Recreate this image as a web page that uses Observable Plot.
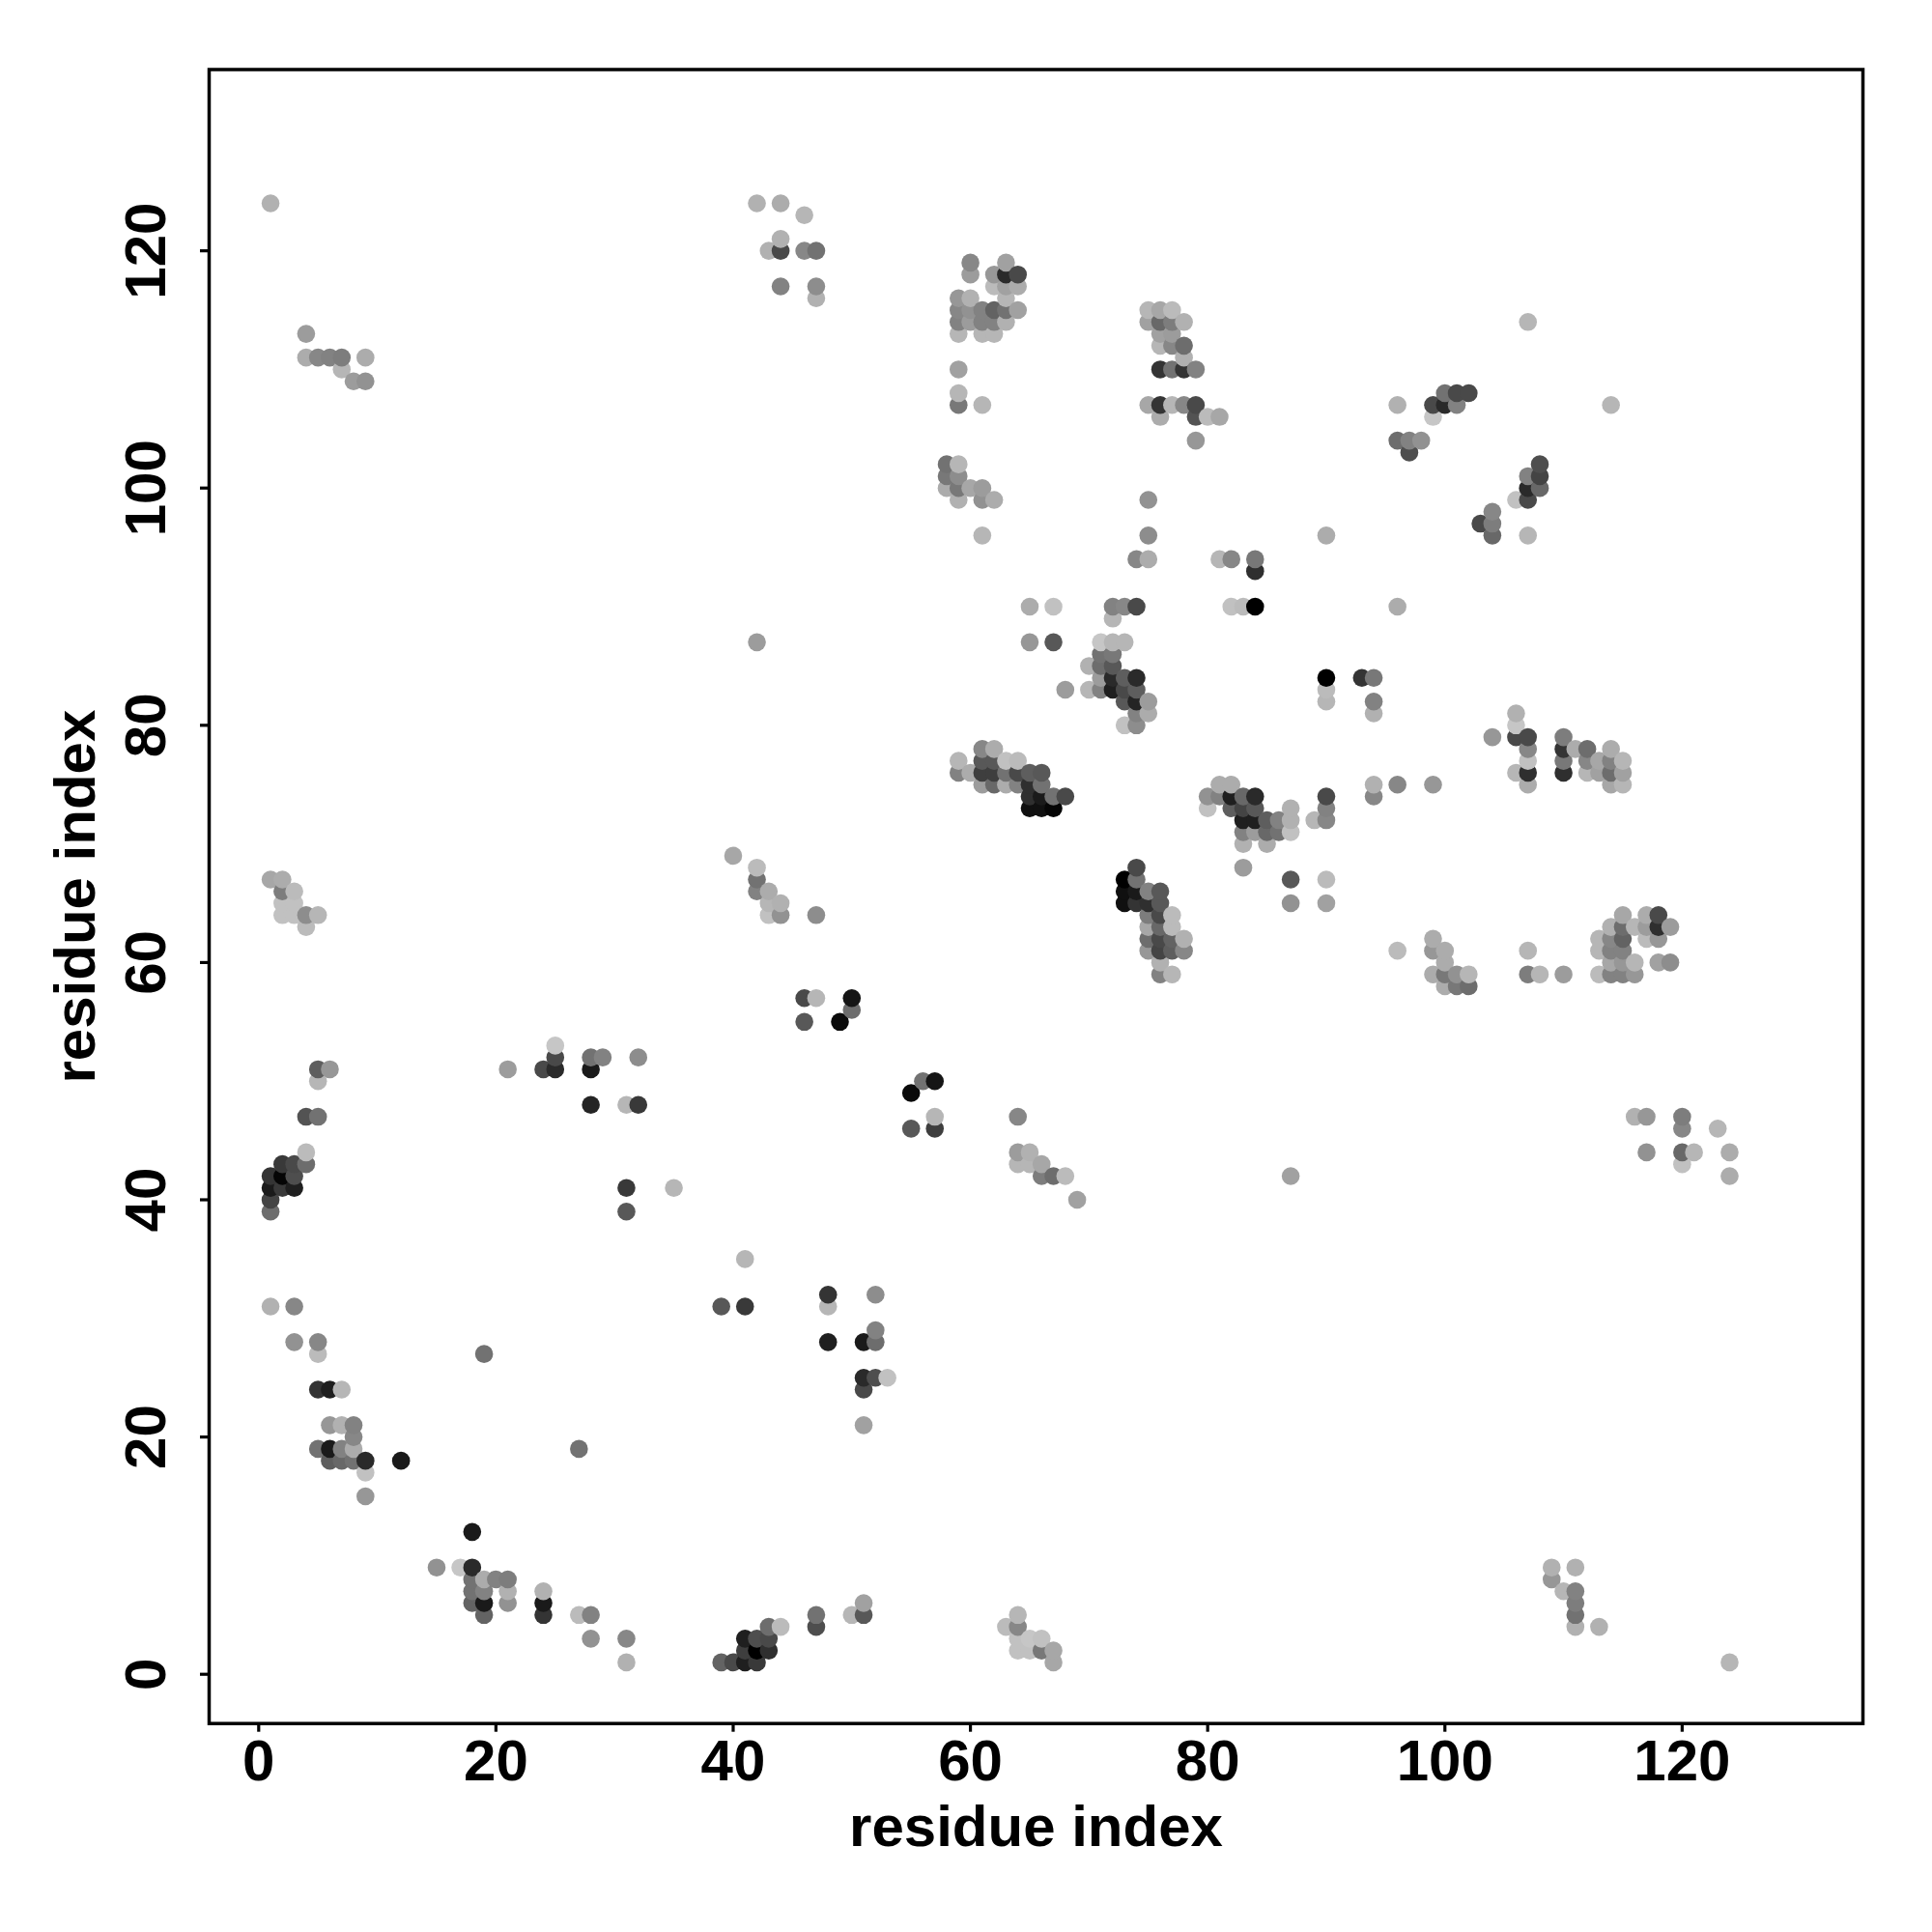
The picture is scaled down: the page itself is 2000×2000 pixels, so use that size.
<!DOCTYPE html>
<html>
<head>
<meta charset="utf-8">
<script src="https://cdn.jsdelivr.net/npm/d3@7"></script>
<script src="https://cdn.jsdelivr.net/npm/@observablehq/plot@0.6"></script>
<style>
html,body{margin:0;padding:0;background:#fff}
svg{display:block}
</style>
</head>
<body>
<div id="chart"></div>
<script>
const tickValues = [0,20,40,60,80,100,120];
const axisName = "residue index";

const xA=[1,3,3,5,5,5,6,7,6,7,8,8,5,6,7,8,6,7,8,9,12,9,9,19,27];
const yA=[31,31,28,28,27,24,24,24,21,21,21,20,19,19,19,19,18,18,18,18,18,17,15,27,19];
const sA=[170,130,140,130,180,50,30,175,145,170,125,130,110,25,125,165,90,100,110,40,25,185,145,110,110];

const xB=[18,15,17,18,18,19,20,21,18,19,21,18,19,21,19,24,24,24,27,28,28,31,31];
const yB=[12,9,9,9,8,8,8,8,7,7,7,6,6,6,5,7,6,5,5,5,3,3,1];
const sB=[25,140,190,40,110,165,125,120,110,125,170,95,25,140,95,170,25,50,180,125,140,130,170];

const xC=[39,41,41,48,48,48,52,51,52,52,51,52,53,51,51];
const yC=[31,31,35,32,31,28,32,28,29,28,25,25,25,24,21];
const sC=[85,55,175,50,175,30,135,25,125,105,40,75,185,70,155];

const xD=[39,40,41,42,41,42,43,41,42,43,43,44,47,47,50,51,51,63,64,64,64,65,66,64,65,66,67,67];
const yD=[1,1,1,1,3,3,3,2,2,2,4,4,5,4,5,6,5,4,5,4,3,3,3,2,2,2,2,1];
const sD=[95,70,30,55,30,75,70,60,0,45,105,180,110,75,175,155,85,180,175,130,185,190,185,185,185,115,160,160];

const xE=[1,2,2,3,2,3,2,3,4,5,4];
const yE=[67,67,66,66,65,65,64,64,64,64,63];
const sE=[160,165,120,180,185,185,185,185,135,175,180];

const xF=[5,6,5,4,5,4,4,2,3,1,2,3,1,2,3,1,1];
const yF=[51,51,50,47,47,44,43,43,43,42,42,42,41,41,41,40,39];
const sF=[90,145,175,80,110,180,105,55,70,50,5,75,25,55,30,65,105];

const xG=[21,24,25,25,25,28,29,32,28,28,31,32,31,31,35];
const yG=[51,51,51,52,53,52,52,52,51,48,48,48,41,39,41];
const sG=[150,70,40,70,190,110,125,135,25,35,175,55,55,85,175];

const xH=[40,42,42,42,43,43,44,43,44,47,46,47,50,50,46,49,56,57,55,57,55,57,64,64,65,64,65,66,66,67,68,69,87];
const yH=[69,68,67,66,66,65,65,64,64,64,57,57,57,56,55,55,50,50,49,47,46,46,47,44,44,43,43,43,42,42,42,40,42];
const sH=[160,180,110,125,165,175,170,185,140,135,70,175,20,105,85,10,110,20,10,175,85,60,130,150,170,175,175,160,120,105,180,155,155];

const xI=[65,67,65,67,72,73,74,72,82,83,84,71,72,73,70,71,72,71,72,71,72,73,74,70,71,72,73,74,73,74,75,74,75,73,74,68];
const yI=[90,90,87,87,90,90,90,89,90,90,90,87,87,87,85,86,86,85,85,84,84,84,84,83,83,83,83,83,82,82,82,81,81,80,80,83];
const sI=[165,185,145,85,125,130,70,175,185,180,0,190,175,175,170,110,115,105,85,150,40,90,40,175,125,30,70,90,85,35,150,125,165,185,135,150];

const xJ=[59,59,60,61,62,61,62,63,64,61,62,63,64,65,66,61,62,63,64,65,66,65,66,67,68,65,66,67];
const yJ=[77,76,76,78,78,77,77,77,77,76,76,76,76,76,76,75,75,75,75,75,75,74,74,74,74,73,73,73];
const sJ=[175,125,165,130,165,85,85,185,180,60,60,110,70,90,85,150,100,165,125,45,110,45,25,110,70,15,15,5];

const xK=[81,82,80,81,82,83,84,80,82,83,84,87,83,84,85,86,87,83,84,85,86,87,83,85,83,87,87];
const yK=[75,75,74,74,74,74,74,73,73,73,73,73,72,72,72,72,72,71,71,71,71,71,70,70,68,67,65];
const sK=[165,165,140,125,30,100,40,185,90,65,85,170,30,30,90,125,170,125,150,100,110,185,170,165,150,85,140];

const xL=[74,73,74,73,74,75,76,73,74,75,76,75,76,77,75,76,77,75,76,77,78,75,76,77,78,76,76,77];
const yL=[68,67,67,66,66,66,66,65,65,65,65,64,64,64,63,63,63,62,62,62,62,61,61,61,61,60,59,59];
const sL=[70,0,110,15,25,125,85,15,50,45,85,120,70,180,160,100,180,105,70,95,170,145,65,90,130,170,125,175];

const xM=[90,90,90,93,94,94,94,106,106,104,106,107,107,107,106,107,107,110,110,110,110,111,112,112,112,113,113,114,114,114,114,115,115,115,94,94,96,99,90,90,90,89,90,90,90];
const yM=[84,83,82,84,84,82,81,81,80,79,79,79,78,77,76,76,75,79,78,77,76,78,78,77,76,77,76,78,77,76,75,77,76,75,75,74,75,75,74,73,72,72,67,65,96];
const sM=[0,180,175,50,115,125,170,170,190,145,70,70,130,185,175,45,165,120,50,115,45,165,105,130,175,160,155,165,125,105,160,175,155,175,170,130,130,145,70,125,130,175,180,155,165];

const xN=[96,99,99,100,100,99,100,101,102,100,101,102,107,107,108,110];
const yN=[61,62,61,61,60,59,59,59,59,58,58,58,61,59,59,59];
const sN=[180,165,145,165,165,165,115,140,175,165,115,105,175,120,175,150];

const xO=[113,113,113,114,114,114,114,114,115,115,115,115,115,115,116,116,116,117,117,117,118,118,118,119,118,119];
const yO=[62,61,59,63,62,61,60,59,64,63,62,61,60,59,63,60,59,64,63,62,64,63,62,63,60,60];
const sO=[175,175,180,170,130,125,160,125,160,105,95,125,145,125,175,175,145,165,150,180,70,45,145,150,155,135];

const xP=[116,117,120,120,123,117,120,121,120,124,124];
const yP=[47,47,47,46,46,44,44,44,43,44,42];
const sP=[170,145,120,130,175,140,100,175,185,165,165];

const xQ=[109,109,110,111,111,111,111,111,113,124];
const yQ=[9,8,7,9,7,6,5,4,4,1];
const sQ=[170,145,175,170,125,120,110,170,170,175];

const xR=[1,4,4,5,6,7,7,8,9,9];
const yR=[124,113,111,111,111,111,110,109,109,111];
const sR=[170,150,165,130,125,120,175,150,140,165];

const xS=[42,44,46,44,43,44,46,47,44,47,47,42];
const yS=[124,124,123,121,120,120,120,120,117,117,116,87];
const sS=[170,165,175,170,170,70,130,110,125,135,170,150];

const xT=[60,60,63,62,63,64,62,63,64,63,59,60,59,60,61,62,63,64,59,60,61,62,63,59,61,62,59,59,59,61];
const yT=[119,118,119,118,118,118,117,117,117,116,116,116,115,115,115,115,115,115,114,114,114,114,114,113,113,113,110,108,107,107];
const sT=[130,150,155,145,40,70,180,155,165,175,145,170,130,140,125,95,110,155,125,150,125,125,170,175,175,175,155,175,115,175];

const xU=[58,59,58,59,58,59,60,61,59,61,62,61];
const yU=[102,102,101,101,100,100,100,100,99,99,99,96];
const sU=[110,175,115,135,165,115,160,150,170,140,165,175];

const xV=[75,76,77,75,76,77,78,76,77,76,77,78,78,76,77,78,79,75,76,77,78,79,76,79,80,81,79,75,75,74,75,81,82,84,84];
const yV=[115,115,115,114,114,114,114,113,113,112,112,112,111,110,110,110,110,107,107,107,107,107,106,106,106,106,104,99,96,94,94,94,94,94,93];
const sV=[175,160,180,155,100,120,170,155,150,175,130,105,170,50,110,50,125,160,50,175,130,70,165,80,180,160,145,140,135,130,165,175,130,115,45];

const xW=[107,96,114,99,100,101,100,101,102,99,96,97,98,97,108,107,108,107,108,106,107,107,104,103,104,104,96];
const yW=[114,107,107,107,107,107,108,108,108,106,104,104,104,103,102,101,101,100,100,99,99,96,98,97,97,96,90];
const sW=[175,170,175,70,40,125,110,70,70,190,105,125,140,75,75,125,65,40,100,185,70,175,130,70,120,100,165];

const groups = [
  [xA,yA,sA],[xB,yB,sB],[xC,yC,sC],[xD,yD,sD],[xE,yE,sE],[xF,yF,sF],
  [xG,yG,sG],[xH,yH,sH],[xI,yI,sI],[xJ,yJ,sJ],[xK,yK,sK],[xL,yL,sL],
  [xM,yM,sM],[xN,yN,sN],[xO,yO,sO],[xP,yP,sP],[xQ,yQ,sQ],[xR,yR,sR],
  [xS,yS,sS],[xT,yT,sT],[xU,yU,sU],[xV,yV,sV],[xW,yW,sW]
];
const table = groups.flatMap(([xs,ys,ss]) => xs.map((x,i) => ({x, y: ys[i], shade: ss[i]})));
const contacts = d3.sort(table, d => d.x, d => d.y);

const plot = Plot.plot({
  width: 2000,
  height: 2000,
  marginLeft: 216,
  marginRight: 72,
  marginTop: 71.5,
  marginBottom: 216.3,
  style: {fontFamily: "'Liberation Sans', Arial, sans-serif", fontWeight: "bold", fontSize: "60px", background: "#fff", color: "#000"},
  x: {domain: [-4.177, 135.24]},
  y: {domain: [-4.153, 135.28]},
  color: {type: "linear", domain: [0,245], range: ["#000","#fff"]},
  marks: [
    Plot.dot(contacts, {x: "x", y: "y", fill: "shade", r: 9.3, stroke: "none"}),
    Plot.frame({stroke: "#000", strokeWidth: 3.5}),
    Plot.axisX({
      ticks: tickValues, tickSize: 9, tickPadding: 7, strokeWidth: 3.2, stroke: "#000",
      fontSize: 60, fontWeight: "bold", fill: "#000",
      label: axisName, labelAnchor: "center", labelArrow: "none", labelOffset: 127
    }),
    Plot.axisY({
      ticks: tickValues, tickSize: 9, tickPadding: 37, tickRotate: -90, strokeWidth: 3.2, stroke: "#000",
      fontSize: 60, fontWeight: "bold", fill: "#000",
      label: axisName, labelAnchor: "center", labelArrow: "none", labelOffset: 161
    })
  ]
});
document.getElementById("chart").appendChild(plot);
</script>
</body>
</html>
